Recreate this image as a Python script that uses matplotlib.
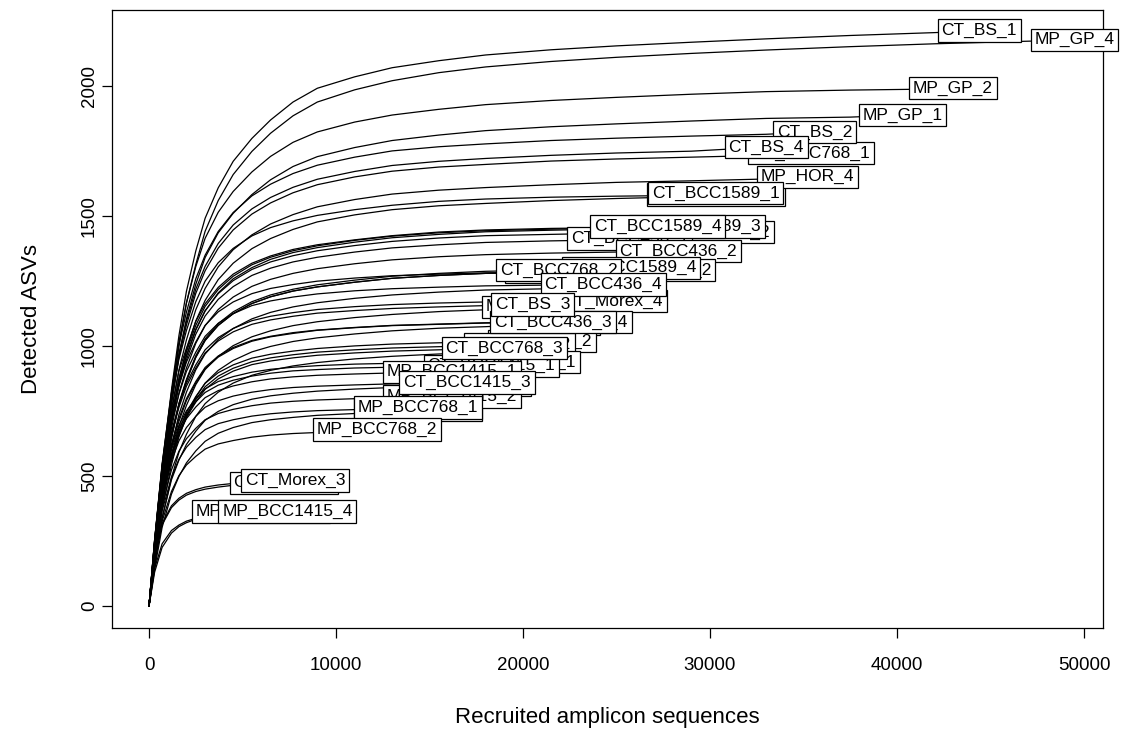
import matplotlib
matplotlib.use('Agg')
import matplotlib.pyplot as plt

# ---------------- data ----------------
grid_reads = [0, 300, 700, 1200, 1600, 2000, 2500, 3000, 3700, 4500, 5500,
              6500, 7700, 9000, 11000, 13000, 15500, 18000, 21500, 25000,
              29000, 33000, 37500, 42000]

samples = [
    'MP_BCC1589_1', 'MP_BCC436_3', 'MP_Morex_1', 'MP_Morex_3', 'MP_HOR_1',
    'MP_HOR_2', 'MP_HOR_3', 'MP_BCC436_2', 'MP_BCC768_3',
    'CT_BCC1589_2', 'CT_BCC1589_3', 'CT_BCC436_1', 'CT_BCC436_2',
    'MP_BCC1589_2', 'MP_BCC1589_4', 'CT_Morex_4', 'MP_BCC436_4', 'CT_Morex_2',
    'MP_Morex_2', 'MP_BCC436_1', 'CT_BCC1415_1', 'MP_BCC1415_1',
    'MP_BCC1415_2', 'CT_Morex_1', 'MP_BCC1415_3', 'MP_HOR_4',
    'CT_BCC768_1', 'CT_BS_2', 'MP_GP_1', 'CT_BS_4', 'MP_GP_2', 'CT_BS_1',
    'MP_GP_4', 'CT_BCC1589_1', 'CT_BCC1589_4', 'CT_BCC768_2', 'CT_BCC436_4',
    'CT_BCC436_3', 'CT_BS_3', 'CT_BCC768_3', 'MP_BCC768_1', 'CT_BCC1415_3',
    'MP_BCC768_2', 'CT_Morex_3', 'MP_BCC1415_4',
]

end_reads = [
    30300, 27100, 22000, 24300, 20500,
    21400, 18800, 17000, 14400,
    29800, 29300, 25700, 28300,
    26600, 25800, 24800, 22400, 21000,
    19800, 19600, 18300, 16200,
    16200, 7200, 6000, 35200,
    35400, 35600, 40300, 33000, 43000, 44400,
    49500, 30300, 27200, 21900, 24300,
    21600, 20500, 19000, 14400, 17000,
    12200, 7800, 7400,
]

end_asvs = [
    1581, 1454, 1285, 1227, 1150,
    1085, 985, 850, 754,
    1438, 1458, 1412, 1365,
    1292, 1300, 1173, 1092, 1019,
    1004, 938, 923, 900,
    804, 473, 362, 1650,
    1742, 1823, 1888, 1765, 1992, 2212,
    2177, 1588, 1458, 1292, 1235,
    1092, 1158, 992, 762, 858,
    677, 481, 362,
]

# detected ASVs at grid_reads[1:], for the grid depths below each sample's end
asvs_at_grid = [
    # MP_BCC1589_1
    [253, 538, 791, 949, 1059, 1170, 1249, 1320, 1375, 1423, 1455, 1481, 1502,
     1524, 1541, 1556, 1565, 1572, 1576, 1579],
    # MP_BCC436_3
    [218, 473, 705, 851, 960, 1061, 1134, 1204, 1258, 1301, 1333, 1359, 1378,
     1399, 1416, 1429, 1439, 1445, 1450],
    # MP_Morex_1
    [244, 514, 732, 848, 938, 1015, 1079, 1131, 1169, 1201, 1221, 1236, 1249,
     1261, 1270, 1276, 1281, 1284],
    # MP_Morex_3
    [196, 417, 614, 736, 822, 908, 969, 1025, 1067, 1104, 1129, 1150, 1166,
     1183, 1196, 1207, 1215, 1220],
    # MP_HOR_1
    [184, 391, 575, 690, 771, 851, 909, 960, 1001, 1035, 1058, 1078, 1093,
     1109, 1121, 1132, 1139],
    # MP_HOR_2
    [174, 369, 543, 651, 727, 803, 857, 906, 944, 977, 998, 1017, 1031,
     1046, 1058, 1068, 1074],
    # MP_HOR_3
    [158, 335, 493, 591, 660, 729, 778, 822, 857, 887, 906, 923, 936,
     950, 960, 969, 975],
    # MP_BCC436_2
    [162, 340, 485, 561, 621, 672, 714, 748, 774, 795, 808, 818, 826,
     834, 840, 844],
    # MP_BCC768_3
    [143, 302, 430, 498, 550, 596, 633, 664, 686, 705, 716, 725, 733,
     740, 745],
    # CT_BCC1589_2
    [230, 489, 719, 863, 963, 1064, 1136, 1201, 1251, 1294, 1323, 1347, 1366,
     1386, 1402, 1415, 1424, 1429, 1434, 1437],
    # CT_BCC1589_3
    [233, 496, 729, 875, 977, 1079, 1152, 1217, 1268, 1312, 1341, 1366, 1385,
     1406, 1422, 1435, 1443, 1449, 1454, 1457],
    # CT_BCC436_1
    [226, 480, 706, 847, 946, 1045, 1115, 1179, 1228, 1271, 1299, 1323, 1341,
     1361, 1377, 1389, 1398, 1404, 1408],
    # CT_BCC436_2
    [218, 464, 683, 819, 915, 1010, 1078, 1140, 1188, 1229, 1256, 1279, 1297,
     1316, 1331, 1343, 1351, 1357, 1361],
    # MP_BCC1589_2
    [207, 439, 646, 775, 866, 956, 1021, 1079, 1124, 1163, 1189, 1211, 1227,
     1245, 1260, 1271, 1279, 1284, 1288],
    # MP_BCC1589_4
    [208, 442, 650, 780, 871, 962, 1027, 1086, 1131, 1170, 1196, 1218, 1235,
     1253, 1268, 1279, 1287, 1292, 1296],
    # CT_Morex_4
    [223, 469, 669, 774, 856, 927, 985, 1032, 1067, 1097, 1114, 1128, 1140,
     1151, 1159, 1165, 1169, 1172],
    # MP_BCC436_4
    [207, 437, 622, 721, 797, 863, 917, 961, 994, 1021, 1037, 1051, 1061,
     1071, 1079, 1084, 1089, 1091],
    # CT_Morex_2
    [194, 408, 581, 673, 744, 805, 856, 897, 927, 953, 968, 980, 990,
     1000, 1007, 1012, 1016],
    # MP_Morex_2
    [191, 402, 572, 663, 733, 793, 843, 884, 914, 939, 954, 966, 976,
     985, 992, 997, 1001],
    # MP_BCC436_1
    [225, 450, 610, 694, 750, 797, 835, 863, 882, 899, 910, 918, 924,
     930, 933, 935, 936],
    # CT_BCC1415_1
    [222, 443, 600, 683, 738, 785, 821, 849, 868, 884, 895, 904, 909,
     915, 918, 920, 921],
    # MP_BCC1415_1
    [216, 432, 585, 666, 720, 765, 801, 828, 846, 862, 873, 881, 887,
     892, 896, 897],
    # MP_BCC1415_2
    [193, 386, 523, 595, 643, 683, 716, 740, 756, 770, 780, 787, 792,
     797, 800, 802],
    # CT_Morex_1
    [189, 312, 378, 407, 426, 440, 449, 457, 464, 468, 471],
    # MP_BCC1415_3
    [130, 225, 280, 305, 320, 333, 341, 348, 354, 358],
    # MP_HOR_4
    [231, 495, 743, 908, 1023, 1139, 1221, 1304, 1370, 1427, 1469, 1505, 1535,
     1563, 1584, 1599, 1609, 1620, 1629, 1635, 1642],
    # CT_BCC768_1
    [244, 523, 784, 958, 1080, 1202, 1289, 1376, 1446, 1507, 1550, 1589, 1620,
     1650, 1672, 1688, 1698, 1711, 1719, 1726, 1733],
    # CT_BS_2
    [255, 547, 820, 1003, 1130, 1258, 1349, 1440, 1513, 1577, 1622, 1663, 1695,
     1726, 1750, 1766, 1777, 1790, 1799, 1807, 1814],
    # MP_GP_1
    [236, 510, 774, 963, 1104, 1237, 1340, 1435, 1510, 1582, 1639, 1690, 1728,
     1763, 1790, 1811, 1828, 1843, 1854, 1865, 1875, 1880],
    # CT_BS_4
    [247, 530, 794, 971, 1094, 1218, 1306, 1394, 1465, 1527, 1571, 1610, 1641,
     1671, 1694, 1710, 1721, 1733, 1742, 1749],
    # MP_GP_2
    [249, 538, 817, 1016, 1165, 1305, 1414, 1514, 1594, 1669, 1729, 1783, 1823,
     1861, 1888, 1910, 1928, 1944, 1956, 1968, 1978, 1984, 1988],
    # CT_BS_1
    [250, 540, 830, 1040, 1210, 1365, 1491, 1608, 1710, 1798, 1869, 1938, 1991,
     2035, 2070, 2097, 2119, 2139, 2154, 2168, 2181, 2194, 2205],
    # MP_GP_4
    [239, 518, 797, 1001, 1165, 1313, 1441, 1559, 1659, 1748, 1818, 1885, 1938,
     1985, 2020, 2051, 2073, 2094, 2110, 2125, 2138, 2151, 2162],
    # CT_BCC1589_1
    [222, 476, 715, 873, 985, 1096, 1175, 1255, 1318, 1374, 1413, 1448, 1477,
     1504, 1524, 1539, 1548, 1559, 1567, 1574],
    # CT_BCC1589_4
    [255, 525, 758, 904, 991, 1094, 1162, 1225, 1276, 1318, 1346, 1371, 1389,
     1408, 1424, 1438, 1446, 1452, 1455],
    # CT_BCC768_2
    [207, 439, 646, 775, 866, 956, 1021, 1079, 1124, 1163, 1189, 1211, 1227,
     1245, 1260, 1271, 1279, 1284],
    # CT_BCC436_4
    [235, 494, 704, 815, 902, 976, 1037, 1087, 1124, 1155, 1173, 1188, 1200,
     1212, 1220, 1226, 1231, 1234],
    # CT_BCC436_3
    [200, 426, 612, 710, 790, 857, 912, 957, 990, 1018, 1035, 1048, 1060,
     1070, 1078, 1083, 1088, 1090],
    # CT_BS_3
    [220, 463, 660, 764, 845, 915, 973, 1019, 1054, 1083, 1100, 1114, 1126,
     1136, 1144, 1150, 1155],
    # CT_BCC768_3
    [188, 397, 565, 655, 724, 784, 833, 873, 903, 928, 942, 954, 964,
     973, 980, 985, 989],
    # MP_BCC768_1
    [183, 366, 495, 564, 610, 648, 678, 701, 716, 730, 739, 746, 751,
     755, 758],
    # CT_BCC1415_3
    [206, 412, 558, 635, 686, 729, 764, 789, 807, 822, 832, 840, 845,
     850, 854, 855],
    # MP_BCC768_2
    [162, 325, 440, 501, 542, 575, 603, 623, 636, 649, 657, 663, 667, 671],
    # CT_Morex_3
    [192, 317, 385, 414, 433, 447, 457, 465, 471, 476, 479, 480],
    # MP_BCC1415_4
    [145, 239, 290, 311, 326, 337, 344, 350, 355, 358, 360],
]

x_ticks = [0, 10000, 20000, 30000, 40000, 50000]
y_ticks = [0, 500, 1000, 1500, 2000]

# ---------------- drawing ----------------
plt.rcParams['font.family'] = ['Liberation Sans', 'DejaVu Sans']

fig = plt.figure(figsize=(11.22, 7.39), dpi=100)
ax = fig.add_axes([112 / 1122, 1 - 628 / 739, (1103 - 112) / 1122, (628 - 10) / 739])

for name, n_end, s_end, vals in zip(samples, end_reads, end_asvs, asvs_at_grid):
    xs = [0] + grid_reads[1:1 + len(vals)] + [n_end]
    ys = [0] + vals + [s_end]
    ax.plot(xs, ys, color='black', lw=0.9, solid_joinstyle='round', zorder=2)

for k, (name, n_end, s_end) in enumerate(zip(samples, end_reads, end_asvs)):
    ax.text(n_end, s_end, name, ha='center', va='center', fontsize=12.5,
            color='black', zorder=10 + k, clip_on=False,
            bbox=dict(boxstyle='square,pad=0.22', fc='white', ec='black', lw=0.9))

ax.set_xlim(-1980, 51016)
ax.set_ylim(-85, 2292)
ax.set_xticks(x_ticks)
ax.set_xticklabels([str(v) for v in x_ticks])
ax.set_yticks(y_ticks)
ax.set_yticklabels([str(v) for v in y_ticks], rotation=90, va='center')
ax.tick_params(axis='both', direction='out', length=7, width=0.9,
               labelsize=13.5, colors='black')
ax.tick_params(axis='x', pad=14)
ax.tick_params(axis='y', pad=3)
for sp in ax.spines.values():
    sp.set_linewidth(0.9)
    sp.set_color('black')

ax.set_xlabel('Recruited amplicon sequences', fontsize=16, labelpad=24)
ax.set_ylabel('Detected ASVs', fontsize=16, labelpad=28)

fig.savefig('out.png', dpi=100)
